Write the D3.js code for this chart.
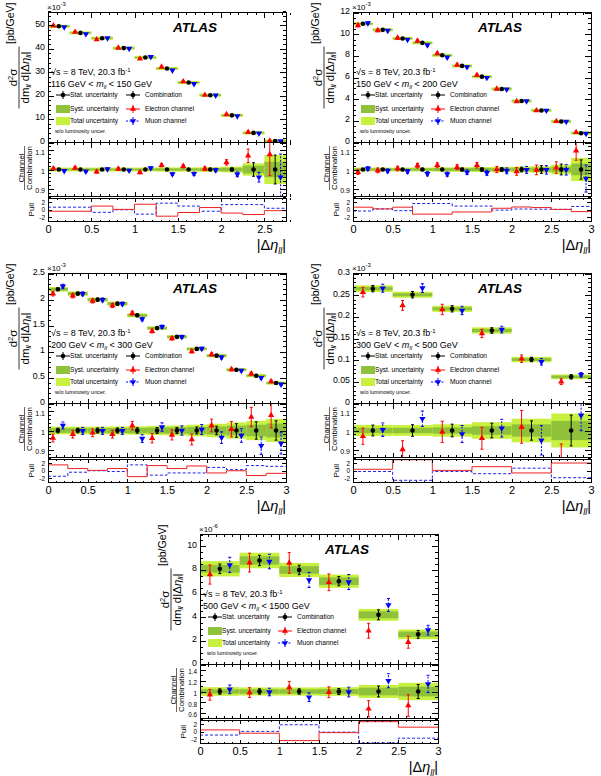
<!DOCTYPE html>
<html><head><meta charset="utf-8">
<script src="https://cdn.jsdelivr.net/npm/d3@7"></script>
<style>
body{margin:0;background:#fff}
svg text{font-family:"Liberation Sans",Arial,Helvetica,sans-serif;fill:#000}
</style>
</head><body>
<svg id="chart" width="601" height="776"></svg>
<script>
// ---------------- data ----------------
const xTickLabels = [0, 0.5, 1, 1.5, 2, 2.5, 3];
const ratioTicks = [0.9, 1, 1.1];
const p5RatioTicks = [0.6, 0.8, 1, 1.2, 1.4];
const pullTicks = [-2, 0, 2];

// Panel 1: 116 < m < 150 GeV (x10^-3 pb/GeV)
const p1Edges = [0,0.25,0.5,0.75,1,1.25,1.5,1.75,2,2.25,2.5,2.75];
const p1YTicks = [0,10,20,30,40,50];
const p1Comb = [49.6,46.8,44.5,40.3,36.3,31.6,25.6,20.2,11.6,4.1,0.6];
const p1ERatio = [1.005,1.008,0.988,1.003,0.985,1.022,1.017,1.004,1.037,1.071,1.078];
const p1MuRatio = [0.993,0.99,1.002,0.995,1.007,0.976,0.978,0.997,0.975,0.96,0.96];
const p1EErr = [0.006,0.006,0.007,0.007,0.007,0.008,0.009,0.01,0.014,0.035,0.11];
const p1MuErr = [0.005,0.005,0.006,0.006,0.006,0.007,0.008,0.009,0.012,0.025,0.12];
const p1Stat = [0.004,0.004,0.004,0.004,0.005,0.005,0.005,0.006,0.008,0.035,0.075];
const p1Syst = [0.005,0.005,0.005,0.005,0.005,0.006,0.006,0.007,0.009,0.02,0.04];
const p1Tot = [0.01,0.01,0.01,0.01,0.01,0.011,0.011,0.012,0.015,0.032,0.075];
const p1EPull = [-0.4,-0.4,1.0,0.1,1.5,-1.75,-0.75,0.6,-0.9,-1.3,-0.25];
const p1MuPull = [0.7,0.7,-0.7,0,-1.2,1.8,1.0,-0.4,1.4,1.4,0.4];

// Panel 2: 150 < m < 200 GeV (x10^-3)
const p2Edges = [0,0.25,0.5,0.75,1,1.25,1.5,1.75,2,2.25,2.5,2.75,3];
const p2YTicks = [0,2,4,6,8,10,12];
const p2Comb = [10.96,10.4,9.6,9.2,8.05,7.07,6.08,4.94,3.83,2.96,1.94,0.86];
const p2ERatio = [0.986,0.995,1.005,1.02,1.022,1.012,1.022,1.0,0.99,0.998,1.01,1.098];
const p2MuRatio = [1.005,0.993,0.99,0.978,0.976,0.986,0.983,0.993,0.998,0.998,0.998,0.953];
const p2EErr = [0.012,0.012,0.012,0.012,0.013,0.013,0.014,0.016,0.02,0.025,0.03,0.05];
const p2MuErr = [0.01,0.01,0.01,0.011,0.011,0.012,0.013,0.015,0.018,0.022,0.027,0.07];
const p2Stat = [0.005,0.005,0.005,0.006,0.006,0.007,0.008,0.009,0.012,0.02,0.028,0.05];
const p2Syst = [0.006,0.006,0.006,0.006,0.007,0.007,0.008,0.008,0.009,0.01,0.014,0.03];
const p2Tot = [0.01,0.01,0.01,0.01,0.011,0.012,0.013,0.014,0.015,0.017,0.025,0.06];
const p2EPull = [0.7,0.25,0.7,-1.2,-1.2,-0.6,-0.6,0.4,0.75,0.6,0.1,-0.5];
const p2MuPull = [-0.35,0.2,-0.25,1.7,1.7,1.0,1.0,-0.1,0.2,0.15,0.1,0.9];

// Panel 3: 200 < m < 300 GeV (x10^-3)
const p3Edges = [0,0.25,0.5,0.75,1,1.25,1.5,1.75,2,2.25,2.5,2.75,3];
const p3YTicks = [0,0.5,1,1.5,2,2.5];
const p3Comb = [2.197,2.113,1.997,1.92,1.695,1.45,1.282,1.05,0.92,0.65,0.535,0.393];
const p3ERatio = [0.961,0.981,0.988,0.981,1.025,0.96,0.977,0.953,1.026,1.007,1.07,1.079];
const p3MuRatio = [1.026,0.998,0.998,0.998,0.958,1.018,1.0,1.005,0.963,0.974,0.921,0.933];
const p3EErr = [0.02,0.02,0.02,0.02,0.022,0.024,0.026,0.028,0.033,0.04,0.05,0.065];
const p3MuErr = [0.018,0.018,0.018,0.018,0.02,0.022,0.024,0.026,0.03,0.035,0.045,0.055];
const p3Stat = [0.012,0.012,0.013,0.013,0.014,0.015,0.016,0.018,0.022,0.035,0.045,0.05];
const p3Syst = [0.012,0.012,0.012,0.013,0.014,0.015,0.016,0.018,0.021,0.025,0.03,0.036];
const p3Tot = [0.02,0.02,0.02,0.021,0.022,0.024,0.026,0.03,0.035,0.042,0.05,0.06];
const p3EPull = [1.6,0.6,0.1,0.6,-1.6,1.4,0.6,1.3,-0.6,0,-1.3,-0.7];
const p3MuPull = [-1.5,-0.4,0,-0.2,1.6,-1.2,-0.6,-0.6,0.9,0.3,1.4,1.2];

// Panel 4: 300 < m < 500 GeV (x10^-3)
const p4Edges = [0,0.5,1,1.5,2,2.5,3];
const p4YTicks = [0,0.05,0.1,0.15,0.2,0.25,0.3];
const p4Comb = [0.265,0.251,0.2185,0.1685,0.1015,0.0615];
const p4ERatio = [0.97,0.902,0.993,0.96,1.019,0.82];
const p4MuRatio = [1.004,1.061,0.982,1.012,0.949,1.079];
const p4EErr = [0.042,0.045,0.055,0.057,0.085,0.11];
const p4MuErr = [0.035,0.04,0.044,0.046,0.076,0.08];
const p4Stat = [0.028,0.03,0.033,0.038,0.05,0.08];
const p4Syst = [0.014,0.014,0.016,0.022,0.032,0.05];
const p4Tot = [0.029,0.028,0.032,0.043,0.061,0.088];
const p4EPull = [0.4,3.0,0.1,1.1,-0.6,2.1];
const p4MuPull = [-0.2,-2.6,-0.2,-0.8,0.7,-1.9];

// Panel 5: 500 < m < 1500 GeV (x10^-6)
const p5Edges = [0,0.5,1,1.5,2,2.5,3];
const p5YTicks = [0,2,4,6,8,10];
const p5Comb = [8.1,8.8,8.0,7.05,4.2,2.55];
const p5ERatio = [0.94,0.98,1.075,0.987,0.68,0.74];
const p5MuRatio = [1.04,0.99,0.894,0.99,1.2,1.14];
const p5EErr = [0.1,0.09,0.11,0.1,0.15,0.2];
const p5MuErr = [0.08,0.07,0.08,0.09,0.13,0.16];
const p5Stat = [0.05,0.05,0.05,0.055,0.1,0.13];
const p5Syst = [0.04,0.04,0.04,0.045,0.07,0.09];
const p5Tot = [0.08,0.075,0.075,0.08,0.12,0.16];
const p5EPull = [0.5,-0.4,-2.4,-0.25,2.75,1.25];
const p5MuPull = [-0.9,0.1,1.9,-0.1,-3.0,-1.75];

// ---------------- config ----------------
const panels = [
  {L:48, T:12.5, edges:p1Edges, yDomain:[0,55.5], yTicks:p1YTicks, yMinor:2, mult:"-3", mLo:"116", mHi:"150",
   comb:p1Comb, eR:p1ERatio, muR:p1MuRatio, eErr:p1EErr, muErr:p1MuErr, stat:p1Stat, syst:p1Syst, tot:p1Tot, eP:p1EPull, muP:p1MuPull,
   rDomain:[0.86,1.14], rTicks:ratioTicks, rMinor:0.02, rFont:7},
  {L:353, T:12.5, edges:p2Edges, yDomain:[0,12], yTicks:p2YTicks, yMinor:0.5, mult:"-3", mLo:"150", mHi:"200",
   comb:p2Comb, eR:p2ERatio, muR:p2MuRatio, eErr:p2EErr, muErr:p2MuErr, stat:p2Stat, syst:p2Syst, tot:p2Tot, eP:p2EPull, muP:p2MuPull,
   rDomain:[0.86,1.14], rTicks:ratioTicks, rMinor:0.02, rFont:7},
  {L:48, T:273.5, edges:p3Edges, yDomain:[0,2.5], yTicks:p3YTicks, yMinor:0.1, mult:"-3", mLo:"200", mHi:"300",
   comb:p3Comb, eR:p3ERatio, muR:p3MuRatio, eErr:p3EErr, muErr:p3MuErr, stat:p3Stat, syst:p3Syst, tot:p3Tot, eP:p3EPull, muP:p3MuPull,
   rDomain:[0.86,1.14], rTicks:ratioTicks, rMinor:0.02, rFont:7},
  {L:353, T:273.5, edges:p4Edges, yDomain:[0,0.3], yTicks:p4YTicks, yMinor:0.01, mult:"-3", mLo:"300", mHi:"500",
   comb:p4Comb, eR:p4ERatio, muR:p4MuRatio, eErr:p4EErr, muErr:p4MuErr, stat:p4Stat, syst:p4Syst, tot:p4Tot, eP:p4EPull, muP:p4MuPull,
   rDomain:[0.86,1.14], rTicks:ratioTicks, rMinor:0.02, rFont:7},
  {L:200, T:534.5, edges:p5Edges, yDomain:[0,11], yTicks:p5YTicks, yMinor:0.5, mult:"-6", mLo:"500", mHi:"1500",
   comb:p5Comb, eR:p5ERatio, muR:p5MuRatio, eErr:p5EErr, muErr:p5MuErr, stat:p5Stat, syst:p5Syst, tot:p5Tot, eP:p5EPull, muP:p5MuPull,
   rDomain:[0.5,1.5], rTicks:p5RatioTicks, rMinor:0.1, rFont:6.3}
];

const W = 238, H = 130, RH = 54, PT = 185.5, PH = 23.5;
const C = {tot:"#c8f03e", syst:"#8fc23a", red:"#ff0000", blue:"#0000ff", pullRed:"#ee2222", pullBlue:"#2222ee"};
const svg = d3.select("#chart");
let clipId = 0;

function rangeStep(a, b, s){ const out=[]; const n=Math.round((b-a)/s); for(let i=0;i<=n;i++){ out.push(+(a+i*s).toFixed(6)); } return out; }

function addAxis(g, gen, tx, ty, fontSize){
  const a = g.append("g").attr("transform", `translate(${tx},${ty})`).call(gen);
  a.select(".domain").remove();
  a.selectAll("line").attr("stroke","#000").attr("stroke-width",1).attr("shape-rendering","crispEdges");
  a.selectAll("text").attr("fill","#000").style("font-size", (fontSize||9)+"px").style("font-family",'"Liberation Sans",Arial,sans-serif');
  return a;
}
function clip(g, x0, y0, w, h){
  const id = "clip"+(clipId++);
  g.append("clipPath").attr("id", id).append("rect").attr("x",x0).attr("y",y0).attr("width",w).attr("height",h);
  return g.append("g").attr("clip-path", `url(#${id})`);
}
function errBar(g, x, y1, y2, color, dashed){
  const l = g.append("line").attr("x1",x).attr("x2",x).attr("y1",y1).attr("y2",y2).attr("stroke",color).attr("stroke-width",1);
  if(dashed) l.attr("stroke-dasharray","2,1.5");
  [y1,y2].forEach(yy => g.append("line").attr("x1",x-1.5).attr("x2",x+1.5).attr("y1",yy).attr("y2",yy).attr("stroke",color).attr("stroke-width",1));
}
const triUp = d3.symbol().type(d3.symbolTriangle).size(17);
function marker(g, kind, x, y){
  if(kind==="comb") g.append("circle").attr("cx",x).attr("cy",y).attr("r",2.3).attr("fill","#000");
  else if(kind==="e") g.append("path").attr("d",triUp()).attr("transform",`translate(${x},${y})`).attr("fill",C.red);
  else g.append("path").attr("d",triUp()).attr("transform",`translate(${x},${y}) rotate(180)`).attr("fill",C.blue);
}

function drawPanel(p){
  const g = svg.append("g");
  const n = p.comb.length;
  const x = d3.scaleLinear().domain([p.edges[0], p.edges[n]]).range([p.L, p.L+W]);
  const y = d3.scaleLinear().domain(p.yDomain).range([p.T+H, p.T]);
  const yr = d3.scaleLinear().domain(p.rDomain).range([p.T+H+RH, p.T+H]);
  const yp = d3.scaleLinear().domain([-3.2,3.2]).range([p.T+PT+PH, p.T+PT]);
  const bw = p.edges[1]-p.edges[0];
  const centers = d3.range(n).map(i => (p.edges[i]+p.edges[i+1])/2);

  // ---- main panel marks ----
  const gm = clip(g, p.L, p.T, W, H);
  for(let i=0;i<n;i++){
    const v = p.comb[i];
    const x0 = x(p.edges[i]), x1 = x(p.edges[i+1]);
    let yt1 = y(v*(1+p.tot[i])), yt2 = y(v*(1-p.tot[i]));
    if(yt2-yt1 < 3.2){ const m=(yt1+yt2)/2; yt1=m-1.6; yt2=m+1.6; }
    gm.append("rect").attr("x",x0).attr("y",yt1).attr("width",x1-x0).attr("height",yt2-yt1).attr("fill",C.tot);
    let ys1 = y(v*(1+p.syst[i])), ys2 = y(v*(1-p.syst[i]));
    if(ys2-ys1 < 1.2){ const m=(ys1+ys2)/2; ys1=m-0.6; ys2=m+0.6; }
    gm.append("rect").attr("x",x0).attr("y",ys1).attr("width",x1-x0).attr("height",ys2-ys1).attr("fill",C.syst);
  }
  for(let i=0;i<n;i++){
    const v = p.comb[i], c = centers[i];
    const ve = v*p.eR[i], vm = v*p.muR[i];
    errBar(gm, x(c-bw/4), y(ve - v*p.eErr[i]), y(ve + v*p.eErr[i]), C.red, false);
    marker(gm, "e", x(c-bw/4), y(ve));
    errBar(gm, x(c+bw/4), y(vm - v*p.muErr[i]), y(vm + v*p.muErr[i]), C.blue, true);
    marker(gm, "mu", x(c+bw/4), y(vm));
    errBar(gm, x(c), y(v*(1-p.stat[i])), y(v*(1+p.stat[i])), "#000", false);
    marker(gm, "comb", x(c), y(v));
  }

  // ---- ratio panel marks ----
  const gr = clip(g, p.L, p.T+H, W, RH);
  for(let i=0;i<n;i++){
    const x0 = x(p.edges[i]), x1 = x(p.edges[i+1]);
    gr.append("rect").attr("x",x0).attr("y",yr(1+p.tot[i])).attr("width",x1-x0).attr("height",yr(1-p.tot[i])-yr(1+p.tot[i])).attr("fill",C.tot);
    gr.append("rect").attr("x",x0).attr("y",yr(1+p.syst[i])).attr("width",x1-x0).attr("height",yr(1-p.syst[i])-yr(1+p.syst[i])).attr("fill",C.syst);
  }
  for(let i=0;i<n;i++){
    const c = centers[i];
    errBar(gr, x(c-bw/4), yr(p.eR[i]-p.eErr[i]), yr(p.eR[i]+p.eErr[i]), C.red, false);
    marker(gr, "e", x(c-bw/4), yr(p.eR[i]));
    errBar(gr, x(c+bw/4), yr(p.muR[i]-p.muErr[i]), yr(p.muR[i]+p.muErr[i]), C.blue, true);
    marker(gr, "mu", x(c+bw/4), yr(p.muR[i]));
    errBar(gr, x(c), yr(1-p.stat[i]), yr(1+p.stat[i]), "#000", false);
    marker(gr, "comb", x(c), yr(1));
  }

  // ---- pull panel ----
  const gp = clip(g, p.L, p.T+PT, W, PH);
  const step = d3.line().x(d=>x(d[0])).y(d=>yp(d[1])).curve(d3.curveStepAfter);
  const ptsE = p.eP.map((v,i)=>[p.edges[i],v]).concat([[p.edges[n], p.eP[n-1]]]);
  const ptsM = p.muP.map((v,i)=>[p.edges[i],v]).concat([[p.edges[n], p.muP[n-1]]]);
  gp.append("path").attr("d",step(ptsM)).attr("fill","none").attr("stroke",C.pullBlue).attr("stroke-width",1).attr("stroke-dasharray","3,2");
  gp.append("path").attr("d",step(ptsE)).attr("fill","none").attr("stroke",C.pullRed).attr("stroke-width",1);

  // ---- frames ----
  [[p.T,H],[p.T+H,RH],[p.T+PT,PH]].forEach(([t,h]) =>
    g.append("rect").attr("x",p.L).attr("y",t).attr("width",W).attr("height",h).attr("fill","none").attr("stroke","#000").attr("stroke-width",1).attr("shape-rendering","crispEdges"));

  // ---- axes ----
  const xMajor = xTickLabels.filter(v => v <= p.edges[n]+1e-9);
  const xMinor = rangeStep(0, p.edges[n], 0.1).filter(v => !xMajor.some(m => Math.abs(m-v)<1e-6));
  const none = () => "";
  // main
  addAxis(g, d3.axisTop(x).tickValues(xMajor).tickSize(-5).tickFormat(none), 0, p.T);
  addAxis(g, d3.axisTop(x).tickValues(xMinor).tickSize(-2.5).tickFormat(none), 0, p.T);
  addAxis(g, d3.axisBottom(x).tickValues(xMajor).tickSize(-5).tickFormat(none), 0, p.T+H);
  addAxis(g, d3.axisBottom(x).tickValues(xMinor).tickSize(-2.5).tickFormat(none), 0, p.T+H);
  const yMinor = rangeStep(p.yDomain[0], p.yDomain[1], p.yMinor).filter(v => !p.yTicks.some(m=>Math.abs(m-v)<1e-9));
  const ya = addAxis(g, d3.axisLeft(y).tickValues(p.yTicks).tickSize(-6).tickPadding(3).tickFormat(d=>String(d)), p.L, 0, 8.8);
  ya.selectAll("text").attr("dy","0.1em");
  addAxis(g, d3.axisLeft(y).tickValues(yMinor).tickSize(-3).tickFormat(none), p.L, 0);
  addAxis(g, d3.axisRight(y).tickValues(p.yTicks).tickSize(-6).tickFormat(none), p.L+W, 0);
  addAxis(g, d3.axisRight(y).tickValues(yMinor).tickSize(-3).tickFormat(none), p.L+W, 0);
  // ratio
  addAxis(g, d3.axisTop(x).tickValues(xMajor).tickSize(-5).tickFormat(none), 0, p.T+H);
  addAxis(g, d3.axisTop(x).tickValues(xMinor).tickSize(-2.5).tickFormat(none), 0, p.T+H);
  addAxis(g, d3.axisBottom(x).tickValues(xMajor).tickSize(-5).tickFormat(none), 0, p.T+H+RH);
  addAxis(g, d3.axisBottom(x).tickValues(xMinor).tickSize(-2.5).tickFormat(none), 0, p.T+H+RH);
  const rMinor = rangeStep(p.rDomain[0], p.rDomain[1], p.rMinor).filter(v => !p.rTicks.some(m=>Math.abs(m-v)<1e-9));
  const ra = addAxis(g, d3.axisLeft(yr).tickValues(p.rTicks).tickSize(-6).tickPadding(3).tickFormat(d=>String(d)), p.L, 0, p.rFont);
  ra.selectAll("text").attr("dy","0.6em");
  addAxis(g, d3.axisLeft(yr).tickValues(rMinor).tickSize(-3).tickFormat(none), p.L, 0);
  addAxis(g, d3.axisRight(yr).tickValues(p.rTicks).tickSize(-6).tickFormat(none), p.L+W, 0);
  addAxis(g, d3.axisRight(yr).tickValues(rMinor).tickSize(-3).tickFormat(none), p.L+W, 0);
  // pull
  addAxis(g, d3.axisTop(x).tickValues(xMajor).tickSize(-4).tickFormat(none), 0, p.T+PT);
  addAxis(g, d3.axisTop(x).tickValues(xMinor).tickSize(-2).tickFormat(none), 0, p.T+PT);
  addAxis(g, d3.axisBottom(x).tickValues(xMajor).tickSize(-4).tickPadding(4).tickFormat(d=>String(d)), 0, p.T+PT+PH, 11);
  addAxis(g, d3.axisBottom(x).tickValues(xMinor).tickSize(-2).tickFormat(none), 0, p.T+PT+PH);
  addAxis(g, d3.axisLeft(yp).tickValues(pullTicks).tickSize(-4).tickPadding(3).tickFormat(d=>String(d)), p.L, 0, 6.5);
  addAxis(g, d3.axisRight(yp).tickValues(pullTicks).tickSize(-4).tickFormat(none), p.L+W, 0);

  // ---- texts ----
  const mt = g.append("text").attr("x",p.L-1).attr("y",p.T-3).style("font-size","8px");
  mt.append("tspan").text("×10");
  mt.append("tspan").attr("dy",-3.5).style("font-size","6px").text(p.mult);

  g.append("text").attr("x",p.L+125).attr("y",p.T+19.5).style("font-size","13.5px").style("font-weight","bold").style("font-style","italic").text("ATLAS");

  // y title
  const yt = g.append("g").attr("transform",`translate(${p.L-29},${p.T+65}) rotate(-90)`);
  yt.append("line").attr("x1",-31).attr("x2",31).attr("y1",0).attr("y2",0).attr("stroke","#000").attr("stroke-width",0.8);
  const num = yt.append("text").attr("x",0).attr("y",-2.5).attr("text-anchor","middle").style("font-size","11.5px");
  num.append("tspan").text("d");
  num.append("tspan").attr("dy",-4).style("font-size","7.5px").text("2");
  num.append("tspan").attr("dy",4).text("σ");
  const den = yt.append("text").attr("x",0).attr("y",9.5).attr("text-anchor","middle").style("font-size","11.5px");
  den.append("tspan").text("dm");
  den.append("tspan").attr("dy",2.5).style("font-size","7px").style("font-style","italic").text("ll");
  den.append("tspan").attr("dy",-2.5).text(" d|Δ");
  den.append("tspan").style("font-style","italic").text("η");
  den.append("tspan").attr("dy",2.5).style("font-size","7px").style("font-style","italic").text("ll");
  den.append("tspan").attr("dy",-2.5).text("|");
  yt.append("text").attr("x",33.5).attr("y",-5).attr("text-anchor","start").style("font-size","10.5px").text("[pb/GeV]");

  // ratio title
  const rt = g.append("g").attr("transform",`translate(${p.L-23.5},${p.T+155.5}) rotate(-90)`);
  rt.append("line").attr("x1",-22).attr("x2",22).attr("y1",0).attr("y2",0).attr("stroke","#000").attr("stroke-width",0.6);
  rt.append("text").attr("x",0).attr("y",-0.8).attr("text-anchor","middle").style("font-size","7.8px").text("Channel");
  rt.append("text").attr("x",0).attr("y",7.8).attr("text-anchor","middle").style("font-size","7.8px").text("Combination");
  g.append("text").attr("transform",`translate(${p.L-14},${p.T+PT+PH/2}) rotate(-90)`).attr("text-anchor","middle").style("font-size","8px").text("Pull");

  // x title
  const xt = g.append("text").attr("x",p.L+W).attr("y",p.T+237.5).attr("text-anchor","end").style("font-size","14.5px");
  xt.append("tspan").text("|Δ");
  xt.append("tspan").style("font-style","italic").text("η");
  xt.append("tspan").attr("dy",3.5).style("font-size","9px").style("font-style","italic").text("ll");
  xt.append("tspan").attr("dy",-3.5).text("|");

  // ---- legend ----
  const lx = p.L;
  const s1 = g.append("text").attr("x",lx+3).attr("y",p.T+62.5).style("font-size","9px");
  s1.append("tspan").text("√s = 8 TeV, 20.3 fb");
  s1.append("tspan").attr("dy",-3.5).style("font-size","6px").text("-1");
  const s2 = g.append("text").attr("x",lx+3).attr("y",p.T+74.5).style("font-size","9px");
  s2.append("tspan").text(p.mLo+" GeV < ");
  s2.append("tspan").style("font-style","italic").text("m");
  s2.append("tspan").attr("dy",2).style("font-size","6px").style("font-style","italic").text("ll");
  s2.append("tspan").attr("dy",-2).text(" < "+p.mHi+" GeV");

  const rows = [p.T+82.5, p.T+96.5, p.T+108.5];
  function legMarker(cx, cy, kind, color, dashed){
    const l = g.append("line").attr("x1",cx-7).attr("x2",cx+7).attr("y1",cy).attr("y2",cy).attr("stroke",color).attr("stroke-width",1);
    const v = g.append("line").attr("x1",cx).attr("x2",cx).attr("y1",cy-4).attr("y2",cy+4).attr("stroke",color).attr("stroke-width",1);
    if(dashed){ l.attr("stroke-dasharray","2,1.5"); v.attr("stroke-dasharray","2,1.5"); }
    marker(g, kind, cx, cy);
  }
  legMarker(lx+15, rows[0], "comb", "#000", false);
  legMarker(lx+85, rows[0], "comb", "#000", false);
  g.append("rect").attr("x",lx+8).attr("y",rows[1]-4).attr("width",14).attr("height",8).attr("fill",C.syst);
  legMarker(lx+85, rows[1], "e", C.red, false);
  g.append("rect").attr("x",lx+8).attr("y",rows[2]-4).attr("width",14).attr("height",8).attr("fill",C.tot);
  legMarker(lx+85, rows[2], "mu", C.blue, true);
  const legTxt = [["Stat. uncertainty","Combination"],["Syst. uncertainty","Electron channel"],["Total uncertainty","Muon channel"]];
  legTxt.forEach((r,i)=>{
    g.append("text").attr("x",lx+22).attr("y",rows[i]+2.3).style("font-size","6.6px").text(r[0]);
    g.append("text").attr("x",lx+97).attr("y",rows[i]+2.3).style("font-size","6.6px").text(r[1]);
  });
  g.append("text").attr("x",lx+7).attr("y",p.T+120.5).style("font-size","5.5px").text("w/o luminosity uncer.");
}

panels.forEach(drawPanel);
</script>
</body></html>
